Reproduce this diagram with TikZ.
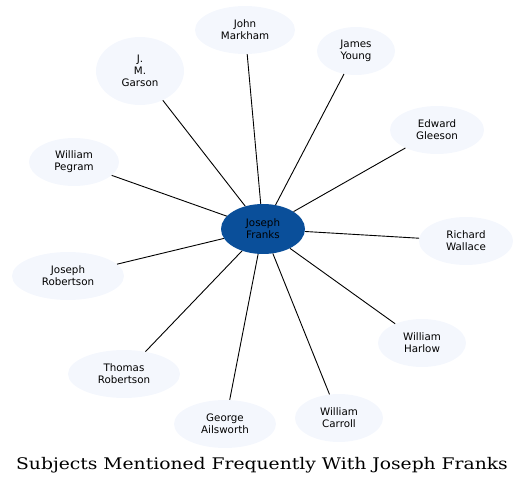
\documentclass[tikz,border=0pt]{standalone}
\usepackage{fontspec}
\setsansfont{DejaVu Sans}
\newfontfamily\titlefont{DejaVu Serif}
\usetikzlibrary{shapes.geometric}
\definecolor{leaf}{HTML}{F4F7FD}
\definecolor{hub}{HTML}{0A4F9A}
\tikzset{
  leafnode/.style={ellipse, fill=leaf, inner sep=0pt, align=center, font=\sffamily\fontsize{10.3}{12.3}\selectfont},
  hubnode/.style={ellipse, fill=hub, inner sep=0pt, align=center, font=\sffamily\fontsize{10.3}{12.3}\selectfont, minimum width=84pt, minimum height=50pt},
  edge/.style={draw=black, line width=0.9pt}
}
\begin{document}
\begin{tikzpicture}[x=1pt,y=-1pt]
\useasboundingbox (0,0) rectangle (525,486);
\node[hubnode] (c) at (263,229) {Joseph\\Franks};
\node[leafnode, minimum width=100pt, minimum height=48pt] (n1) at (245,30) {John\\Markham};
\node[leafnode, minimum width=78pt, minimum height=48pt] (n2) at (356,51) {James\\Young};
\node[leafnode, minimum width=88pt, minimum height=68pt] (n3) at (140,71) {J.\\M.\\Garson};
\node[leafnode, minimum width=94pt, minimum height=48pt] (n4) at (437,130) {Edward\\Gleeson};
\node[leafnode, minimum width=90pt, minimum height=48pt] (n5) at (74,162) {William\\Pegram};
\node[leafnode, minimum width=94pt, minimum height=48pt] (n6) at (466,241) {Richard\\Wallace};
\node[leafnode, minimum width=112pt, minimum height=48pt] (n7) at (68,276) {Joseph\\Robertson};
\node[leafnode, minimum width=88pt, minimum height=48pt] (n8) at (422,343) {William\\Harlow};
\node[leafnode, minimum width=112pt, minimum height=48pt] (n9) at (124,374) {Thomas\\Robertson};
\node[leafnode, minimum width=102pt, minimum height=48pt] (n10) at (225,424) {George\\Ailsworth};
\node[leafnode, minimum width=88pt, minimum height=48pt] (n11) at (339,418) {William\\Carroll};
\foreach \n in {n1,n2,n3,n4,n5,n6,n7,n8,n9,n10,n11} \draw[edge] (c) -- (\n);
\node[font=\titlefont\fontsize{16}{19}\selectfont] (title) at (262,465) {\scalebox{1.17}[1]{Subjects Mentioned Frequently With Joseph Franks}};
\end{tikzpicture}
\end{document}
